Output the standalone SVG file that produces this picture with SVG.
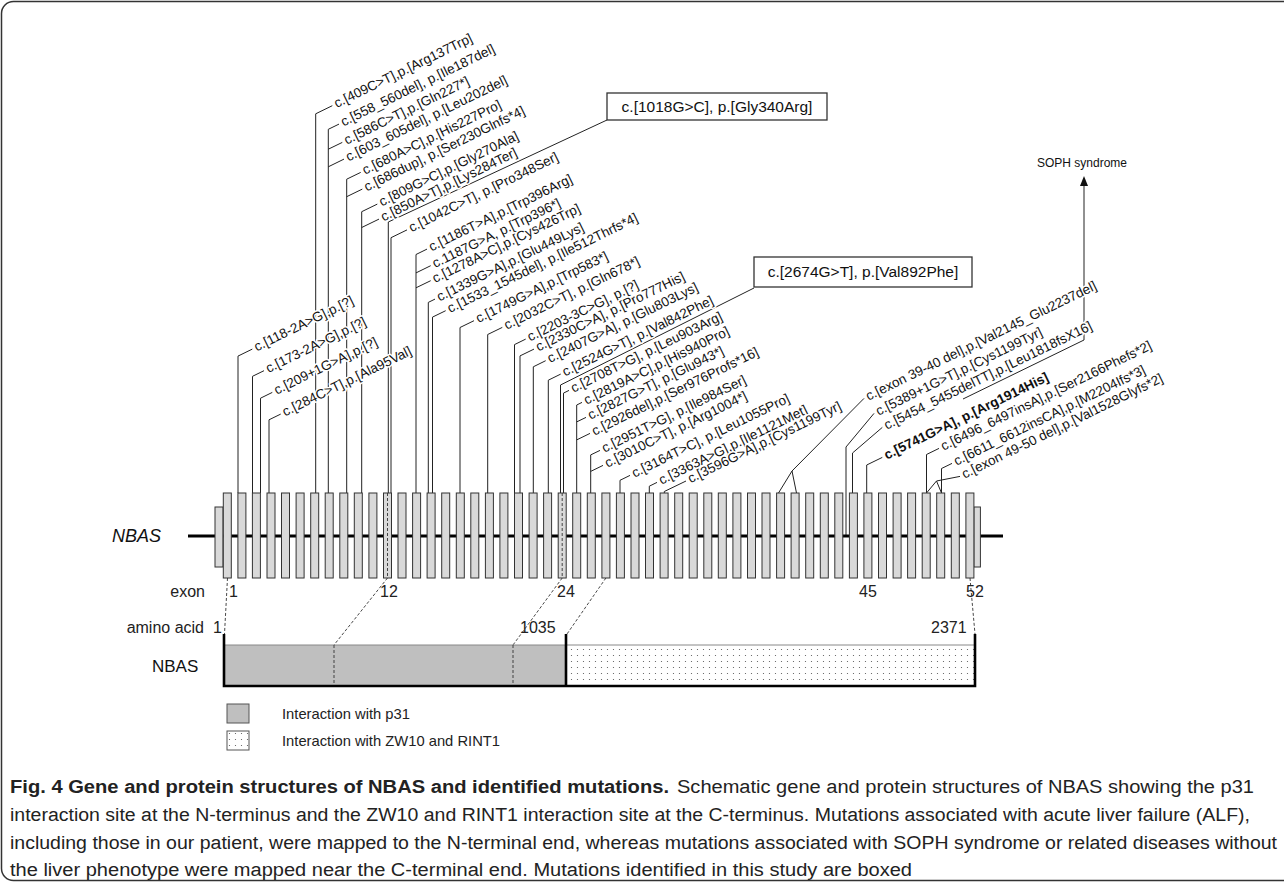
<svg xmlns="http://www.w3.org/2000/svg" width="1284" height="883" viewBox="0 0 1284 883">
<defs>
<pattern id="dots" width="6" height="6" patternUnits="userSpaceOnUse"><rect width="6" height="6" fill="#fff"/><circle cx="1.5" cy="1.5" r="0.6" fill="#555"/></pattern>
<style>
.ln{stroke:#222;stroke-width:1;fill:none}
.dash{stroke:#333;stroke-width:0.9;fill:none;stroke-dasharray:3 2}
.thick{stroke:#000;stroke-width:2.6;fill:none}
.ex{fill:#d9d9d9;stroke:#333;stroke-width:1}
.lbl{font-family:"Liberation Sans",Arial,sans-serif;font-size:13.5px;fill:#111;stroke:#fff;stroke-width:3px;paint-order:stroke;stroke-linejoin:round}
.b{font-weight:bold}
.bx{fill:#fff;stroke:#333;stroke-width:1.3}
.bt{font-family:"Liberation Sans",Arial,sans-serif;font-size:15.5px;fill:#111}
.ax{font-family:"Liberation Sans",Arial,sans-serif;font-size:16px;fill:#222}
.cap{font-family:"Liberation Sans",Arial,sans-serif;font-size:18px;fill:#222}
.leg{font-family:"Liberation Sans",Arial,sans-serif;font-size:15px;fill:#222}
</style>
</defs>
<rect x="1.5" y="1.5" width="1320" height="879" rx="12" fill="none" stroke="#333" stroke-width="1.5"/>

<g id="connectors">
<path class="ln" d="M238 493V356.1L252.3 349.1"/>
<path class="ln" d="M252.5 493V376.3L264 370.7"/>
<path class="ln" d="M260.5 493V398.2L272.3 392.4"/>
<path class="ln" d="M269 493V419.8L280.7 414.1"/>
<path class="ln" d="M315.7 493V113.8L332.3 105.7"/>
<path class="ln" d="M328.3 493V129.3L339 124.1M328.3 149.2L342.3 142.4M328.3 166.8L344 159.1"/>
<path class="ln" d="M346.7 493V179.2L360.7 172.4M346.7 196.7L362.3 189.1"/>
<path class="ln" d="M361.7 493V211.7L377.3 204.1M361.7 227.5L379 219.1"/>
<path class="ln" d="M388.3 493V222L607 120"/>
<path class="ln" d="M391 493V237.7L407 229.9"/>
<path class="ln" d="M416 493V254.5L427 249.1M416 272.9L430.7 265.7M416 287.8L430.7 280.7"/>
<path class="ln" d="M428.3 493V302.4L435 299.1"/>
<path class="ln" d="M432.5 493V317.1L445.7 310.7"/>
<path class="ln" d="M460 493V327.5L474 320.7"/>
<path class="ln" d="M487.7 493V334.5L502.3 327.4"/>
<path class="ln" d="M514.5 493V344.6L525.7 339.1"/>
<path class="ln" d="M520 493V355.9L534 349.1"/>
<path class="ln" d="M533.3 493V366.8L545.7 360.7"/>
<path class="ln" d="M548.3 493V380.2L560.7 374.1"/>
<path class="ln" d="M560.5 493V385L754 288"/>
<path class="ln" d="M563.5 493V393.1L569 390.4"/>
<path class="ln" d="M576.7 493V405L582 402.4M576.7 421.9L586 417.4M576.7 439.9L590 433.4"/>
<path class="ln" d="M590.7 493V454.9L600 450.4M590.7 471.4L603 465.4"/>
<path class="ln" d="M620 493V480.3L630 475.4"/>
<path class="ln" d="M649.3 493V486.2L657 482.4"/>
<path class="ln" d="M664.3 493V491.5L686 481"/>
<path class="ln" d="M778.5 493L792 471L796.5 493M792 471L864 398.4"/>
<path class="ln" d="M846 535V447L874 413.4"/>
<path class="ln" d="M852.5 493V453L882.3 427.4"/>
<path class="ln" d="M866.7 493V465L882.3 457.4"/>
<path class="ln" d="M926.5 493V454.5L939 448.4"/>
<path class="ln" d="M941.5 493V468.5L952 463.4"/>
<path class="ln" d="M926.5 493L936.5 481L941.5 493M936.5 481L960 476.4"/>
<path class="ln" d="M963 399L1084 340V185"/>
<polygon points="1084,176 1080,186 1088,186" fill="#111"/>
<path class="dash" d="M227.5 578L224.5 634"/>
<path class="dash" d="M387.5 578L334 645"/>
<path class="dash" d="M562.2 578L513 645"/>
<path class="dash" d="M605.9 578L567 634"/>
<path class="dash" d="M970 578L975 634"/>
</g>

<g id="gene">
<line x1="188" y1="536" x2="1003" y2="536" stroke="#000" stroke-width="3"/>
<rect class="ex" x="215" y="507" width="8" height="60"/>
<rect class="ex" x="973.9" y="507" width="6.5" height="60"/>
<g class="ex">
<rect x="223.3" y="493" width="8" height="85"/><rect x="237.9" y="493" width="8" height="85"/><rect x="252.4" y="493" width="8" height="85"/><rect x="267" y="493" width="8" height="85"/><rect x="281.5" y="493" width="8" height="85"/><rect x="296.1" y="493" width="8" height="85"/><rect x="310.7" y="493" width="8" height="85"/><rect x="325.2" y="493" width="8" height="85"/><rect x="339.8" y="493" width="8" height="85"/><rect x="354.3" y="493" width="8" height="85"/><rect x="368.9" y="493" width="8" height="85"/><rect x="383.5" y="493" width="8" height="85"/><rect x="398" y="493" width="8" height="85"/><rect x="412.6" y="493" width="8" height="85"/><rect x="427.1" y="493" width="8" height="85"/><rect x="441.7" y="493" width="8" height="85"/><rect x="456.3" y="493" width="8" height="85"/><rect x="470.8" y="493" width="8" height="85"/><rect x="485.4" y="493" width="8" height="85"/><rect x="499.9" y="493" width="8" height="85"/><rect x="514.5" y="493" width="8" height="85"/><rect x="529.1" y="493" width="8" height="85"/><rect x="543.6" y="493" width="8" height="85"/><rect x="558.2" y="493" width="8" height="85"/><rect x="572.7" y="493" width="8" height="85"/><rect x="587.3" y="493" width="8" height="85"/><rect x="601.9" y="493" width="8" height="85"/><rect x="616.4" y="493" width="8" height="85"/><rect x="631" y="493" width="8" height="85"/><rect x="645.5" y="493" width="8" height="85"/><rect x="660.1" y="493" width="8" height="85"/><rect x="674.7" y="493" width="8" height="85"/><rect x="689.2" y="493" width="8" height="85"/><rect x="703.8" y="493" width="8" height="85"/><rect x="718.3" y="493" width="8" height="85"/><rect x="732.9" y="493" width="8" height="85"/><rect x="747.5" y="493" width="8" height="85"/><rect x="762" y="493" width="8" height="85"/><rect x="776.6" y="493" width="8" height="85"/><rect x="791.1" y="493" width="8" height="85"/><rect x="805.7" y="493" width="8" height="85"/><rect x="820.3" y="493" width="8" height="85"/><rect x="834.8" y="493" width="8" height="85"/><rect x="849.4" y="493" width="8" height="85"/><rect x="863.9" y="493" width="8" height="85"/><rect x="878.5" y="493" width="8" height="85"/><rect x="893.1" y="493" width="8" height="85"/><rect x="907.6" y="493" width="8" height="85"/><rect x="922.2" y="493" width="8" height="85"/><rect x="936.7" y="493" width="8" height="85"/><rect x="951.3" y="493" width="8" height="85"/><rect x="965.9" y="493" width="8" height="85"/>
</g>
<path class="dash" d="M387.5 493V578M562.2 493V578"/>
<text x="112" y="542" font-family="Liberation Sans, Arial, sans-serif" font-size="18" font-style="italic" fill="#111">NBAS</text>
</g>

<g id="axis-labels" class="ax">
<text x="205" y="597" text-anchor="end">exon</text>
<text x="229" y="597">1</text>
<text x="380" y="597">12</text>
<text x="557" y="597">24</text>
<text x="859" y="597">45</text>
<text x="966" y="597">52</text>
<text x="204" y="633" text-anchor="end">amino acid</text>
<text x="213" y="633">1</text>
<text x="520" y="633">1035</text>
<text x="931" y="633">2371</text>
</g>

<g id="protein">
<rect x="224" y="645" width="342" height="41" fill="#bfbfbf"/>
<rect x="566" y="645" width="409" height="41" fill="url(#dots)"/>
<line x1="224" y1="645" x2="975" y2="645" stroke="#888" stroke-width="1"/>
<path class="dash" d="M334 645V686M513 645V686"/>
<path class="thick" d="M224 634V686H975V634M566 634V686"/>
<text x="152" y="672" font-family="Liberation Sans, Arial, sans-serif" font-size="17" fill="#111">NBAS</text>
</g>

<g id="legend">
<rect x="227" y="704" width="22" height="19" fill="#bfbfbf" stroke="#555" stroke-width="1"/>
<text class="leg" x="282" y="719" textLength="128" lengthAdjust="spacingAndGlyphs">Interaction with p31</text>
<rect x="227" y="731" width="22" height="19" fill="url(#dots)" stroke="#555" stroke-width="1"/>
<text class="leg" x="282" y="746" textLength="218" lengthAdjust="spacingAndGlyphs">Interaction with ZW10 and RINT1</text>
</g>

<g id="box-1018">
<rect class="bx" x="607" y="93" width="220" height="27"/>
<text class="bt" x="717" y="112" text-anchor="middle">c.[1018G&gt;C], p.[Gly340Arg]</text>
</g>
<g id="box-2674">
<rect class="bx" x="754" y="257" width="218" height="30"/>
<text class="bt" x="863" y="277" text-anchor="middle">c.[2674G&gt;T], p.[Val892Phe]</text>
</g>
<g id="soph">
<text x="1037" y="167" font-family="Liberation Sans, Arial, sans-serif" font-size="12" fill="#111">SOPH syndrome</text>
</g>

<g id="labels" class="lbl">
<text transform="translate(256.7,351.4) rotate(-26)">c.[118-2A&gt;G],p.[?]</text>
<text transform="translate(268.4,373) rotate(-26)">c.[173-2A&gt;G],p.[?]</text>
<text transform="translate(276.7,394.7) rotate(-26)">c.[209+1G&gt;A],p.[?]</text>
<text transform="translate(285.1,416.4) rotate(-26)">c.[284C&gt;T],p.[Ala95Val]</text>
<text transform="translate(336.7,108) rotate(-26)">c.[409C&gt;T],p.[Arg137Trp]</text>
<text transform="translate(343.4,126.4) rotate(-26)">c.[558_560del], p.[Ile187del]</text>
<text transform="translate(346.7,144.7) rotate(-26)">c.[586C&gt;T],p.[Gln227*]</text>
<text transform="translate(348.4,161.4) rotate(-26)">c.[603_605del], p.[Leu202del]</text>
<text transform="translate(365.1,174.7) rotate(-26)">c.[680A&gt;C],p.[His227Pro]</text>
<text transform="translate(366.7,191.4) rotate(-26)">c.[686dup], p.[Ser230Glnfs*4]</text>
<text transform="translate(381.7,206.4) rotate(-26)">c.[809G&gt;C],p.[Gly270Ala]</text>
<text transform="translate(383.4,221.4) rotate(-26)">c.[850A&gt;T],p.[Lys284Ter]</text>
<text transform="translate(411.4,232.2) rotate(-26)">c.[1042C&gt;T], p.[Pro348Ser]</text>
<text transform="translate(431.4,251.4) rotate(-26)">c.[1186T&gt;A],p.[Trp396Arg]</text>
<text transform="translate(435.1,268) rotate(-26)">c.1187G&gt;A, p.[Trp396*]</text>
<text transform="translate(435.1,283) rotate(-26)">c.[1278A&gt;C],p.[Cys426Trp]</text>
<text transform="translate(439.4,301.4) rotate(-26)">c.[1339G&gt;A],p.[Glu449Lys]</text>
<text transform="translate(450.1,313) rotate(-26)">c.[1533_1545del], p.[Ile512Thrfs*4]</text>
<text transform="translate(478.4,323) rotate(-26)">c.[1749G&gt;A],p.[Trp583*]</text>
<text transform="translate(506.7,329.7) rotate(-26)">c.[2032C&gt;T], p.[Gln678*]</text>
<text transform="translate(530.1,341.4) rotate(-26)">c.[2203-3C&gt;G], p.[?]</text>
<text transform="translate(538.4,351.4) rotate(-26)">c.[2330C&gt;A], p.[Pro777His]</text>
<text transform="translate(550.1,363) rotate(-26)">c.[2407G&gt;A], p.[Glu803Lys]</text>
<text transform="translate(565.1,376.4) rotate(-26)">c.[2524G&gt;T], p.[Val842Phe]</text>
<text transform="translate(573.4,392.7) rotate(-26)">c.[2708T&gt;G], p.[Leu903Arg]</text>
<text transform="translate(586.4,404.7) rotate(-26)">c.[2819A&gt;C],p.[His940Pro]</text>
<text transform="translate(590.4,419.7) rotate(-26)">c.[2827G&gt;T], p.[Glu943*]</text>
<text transform="translate(594.4,435.7) rotate(-26)">c.[2926del],p.[Ser976Profs*16]</text>
<text transform="translate(604.4,452.7) rotate(-26)">c.[2951T&gt;G], p.[Ile984Ser]</text>
<text transform="translate(607.4,467.7) rotate(-26)">c.[3010C&gt;T], p.[Arg1004*]</text>
<text transform="translate(634.4,477.7) rotate(-26)">c.[3164T&gt;C], p.[Leu1055Pro]</text>
<text transform="translate(661.4,484.7) rotate(-26)">c.[3363A&gt;G],p.[Ile1121Met]</text>
<text transform="translate(690.4,483.3) rotate(-26)">c.[3596G&gt;A],p.[Cys1199Tyr]</text>
<text transform="translate(868.4,400.7) rotate(-26)">c.[exon 39-40 del],p.[Val2145_Glu2237del]</text>
<text transform="translate(878.4,415.7) rotate(-26)">c.[5389+1G&gt;T],p.[Cys1199Tyr]</text>
<text transform="translate(886.7,429.7) rotate(-26)">c.[5454_5455delTT],p.[Leu1818fsX16]</text>
<text class="b" transform="translate(886.7,459.7) rotate(-26)">c.[5741G&gt;A], p.[Arg1914His]</text>
<text transform="translate(943.4,450.7) rotate(-26)">c.[6496_6497insA],p.[Ser2166Phefs*2]</text>
<text transform="translate(956.4,465.7) rotate(-26)">c.[6611_6612insCA],p.[M2204Ifs*3]</text>
<text transform="translate(964.4,478.7) rotate(-26)">c.[exon 49-50 del],p.[Val1528Glyfs*2]</text>
</g>

<g id="caption" class="cap">
<text x="10" y="793" font-weight="bold" textLength="659" lengthAdjust="spacingAndGlyphs">Fig. 4 Gene and protein structures of NBAS and identified mutations.</text>
<text x="677" y="793" textLength="577" lengthAdjust="spacingAndGlyphs">Schematic gene and protein structures of NBAS showing the p31</text>
<text x="10" y="821" textLength="1240" lengthAdjust="spacingAndGlyphs">interaction site at the N-terminus and the ZW10 and RINT1 interaction site at the C-terminus. Mutations associated with acute liver failure (ALF),</text>
<text x="10" y="849" textLength="1267" lengthAdjust="spacingAndGlyphs">including those in our patient, were mapped to the N-terminal end, whereas mutations associated with SOPH syndrome or related diseases without</text>
<text x="10" y="876" textLength="902" lengthAdjust="spacingAndGlyphs">the liver phenotype were mapped near the C-terminal end. Mutations identified in this study are boxed</text>
</g>
</svg>
